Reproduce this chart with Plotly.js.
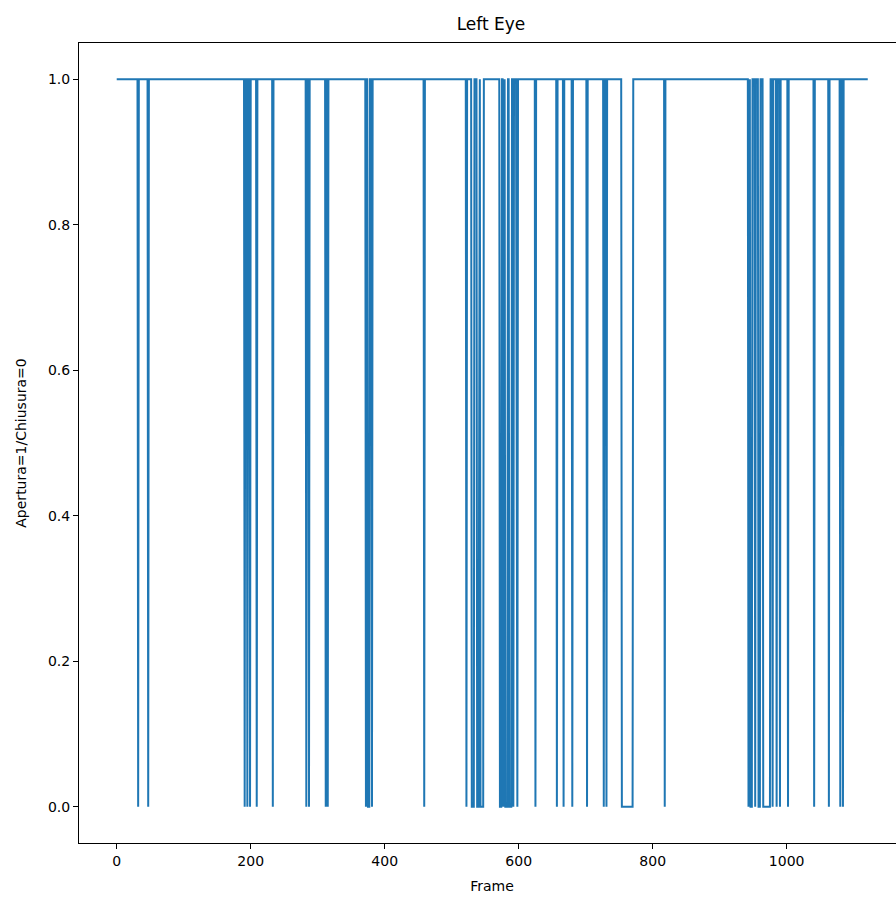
<!DOCTYPE html>
<html>
<head>
<meta charset="utf-8">
<script src="https://cdn.plot.ly/plotly-3.0.1.min.js"></script>
<style>html,body{margin:0;padding:0;overflow:hidden;background:#fff;}</style>
</head>
<body>
<div id="chart"></div>
<script>
// Frames where the left eye is closed (value 0): start and end of each closure
const lastFrame = 1121;
const blinkStart = [32, 47, 191, 195, 199, 209, 233, 283, 287, 312, 315, 372, 375, 381, 459,
  522, 530, 538, 543, 572, 577, 580, 586, 592, 597, 625, 657, 667, 680, 702, 727, 731, 754,
  818, 943, 946, 953, 958, 965, 979, 985, 990, 1002, 1041, 1063, 1080, 1084];
const blinkEnd = [32, 47, 191, 195, 199, 209, 233, 283, 287, 312, 315, 372, 377, 381, 459,
  522, 533, 540, 547, 574, 577, 583, 589, 592, 598, 625, 657, 667, 680, 702, 727, 731, 770,
  818, 943, 948, 953, 960, 975, 979, 985, 990, 1002, 1041, 1063, 1080, 1084];
const openValue = 1, closedValue = 0;
const yTicks = [0, 0.2, 0.4, 0.6, 0.8, 1.0];
const xTicks = [0, 200, 400, 600, 800, 1000];

const xs = [0], ys = [openValue];
for (let i = 0; i < blinkStart.length; i++) {
  xs.push(blinkStart[i] - 1, blinkStart[i], blinkEnd[i], blinkEnd[i] + 1);
  ys.push(openValue, closedValue, closedValue, openValue);
}
xs.push(lastFrame); ys.push(openValue);

const font = {family: 'DejaVu Sans', size: 14, color: '#000'};
Plotly.newPlot('chart', [{
  x: xs, y: ys, type: 'scatter', mode: 'lines',
  line: {color: '#1f77b4', width: 2}, hoverinfo: 'skip'
}], {
  width: 910, height: 897,
  margin: {l: 79, r: 5, t: 43, b: 54},
  paper_bgcolor: '#fff', plot_bgcolor: '#fff',
  font: font,
  showlegend: false,
  title: {text: 'Left Eye', font: {family: 'DejaVu Sans', size: 17, color: '#000'},
    x: 491/910, xref: 'container', xanchor: 'center', y: 1 - 24/897, yref: 'container', yanchor: 'middle'},
  xaxis: {
    range: [-56.3, 1176.6], tickvals: xTicks, ticktext: xTicks.map(String),
    showgrid: false, zeroline: false, showline: true, linecolor: '#000', linewidth: 1, mirror: true,
    ticks: 'outside', ticklen: 5, tickcolor: '#000', tickwidth: 1, tickfont: font,
    title: {text: 'Frame', font: font, standoff: 13}
  },
  yaxis: {
    range: [-0.05, 1.05], tickvals: yTicks, ticktext: yTicks.map(v => v.toFixed(1)),
    showgrid: false, zeroline: false, showline: true, linecolor: '#000', linewidth: 1, mirror: true,
    ticks: 'outside', ticklen: 5, tickcolor: '#000', tickwidth: 1, tickfont: font,
    title: {text: 'Apertura=1/Chiusura=0', font: font, standoff: 18}
  }
}, {displayModeBar: false, staticPlot: true});
</script>
</body>
</html>
